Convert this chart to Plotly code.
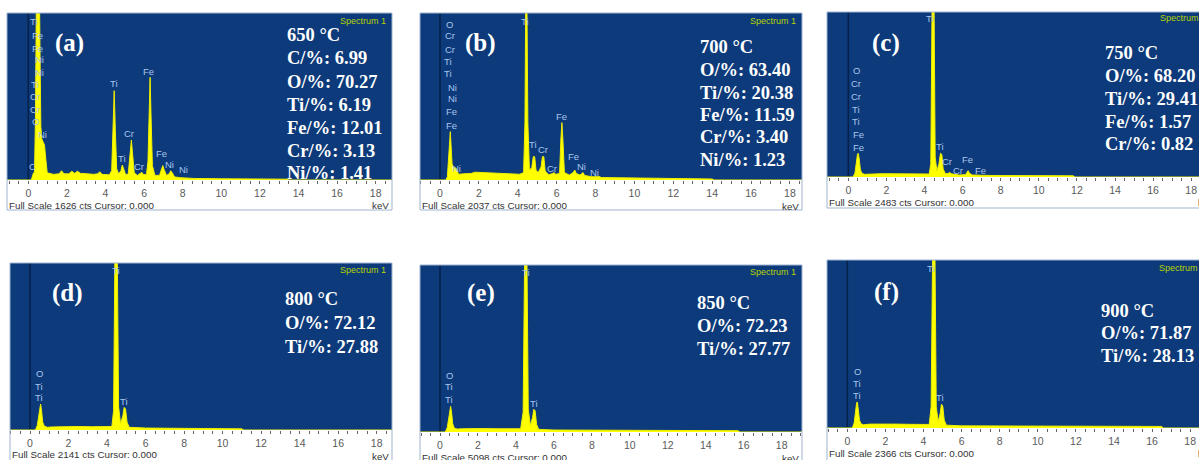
import plotly.graph_objects as go

W, H = 1199, 460

# ---------------- data ----------------
panel_letters = ["(a)", "(b)", "(c)", "(d)", "(e)", "(f)"]
temperatures = ["650 °C", "700 °C", "750 °C", "800 °C", "850 °C", "900 °C"]
full_scale_cts = [1626, 2037, 2483, 2141, 5098, 2366]
tick_values = [0, 2, 4, 6, 8, 10, 12, 14, 16, 18]

composition_a = ["C/%: 6.99", "O/%: 70.27", "Ti/%: 6.19", "Fe/%: 12.01", "Cr/%: 3.13", "Ni/%: 1.41"]
composition_b = ["O/%: 63.40", "Ti/%: 20.38", "Fe/%: 11.59", "Cr/%: 3.40", "Ni/%: 1.23"]
composition_c = ["O/%: 68.20", "Ti/%: 29.41", "Fe/%: 1.57", "Cr/%: 0.82"]
composition_d = ["O/%: 72.12", "Ti/%: 27.88"]
composition_e = ["O/%: 72.23", "Ti/%: 27.77"]
composition_f = ["O/%: 71.87", "Ti/%: 28.13"]

# spectra: (energy keV, counts)
spectrum_a = [(-1.2, 0), (0.15, 0), (0.22, 40), (0.27, 70), (0.32, 65), (0.37, 600), (0.42, 1800), (0.47, 2000),
              (0.57, 2000), (0.61, 1200), (0.65, 520), (0.70, 400), (0.78, 370), (0.84, 340), (0.91, 200), (0.98, 70),
              (1.3, 55), (1.6, 60), (1.72, 90), (1.85, 60), (2.1, 60), (2.25, 85), (2.4, 65), (2.55, 85), (2.7, 65),
              (3.0, 60), (3.4, 55), (3.6, 60), (3.7, 80), (3.82, 55), (4.2, 50),
              (4.32, 90), (4.39, 500), (4.45, 870), (4.51, 480), (4.58, 110), (4.68, 60), (4.80, 90), (4.87, 146),
              (4.94, 100), (5.05, 50), (5.18, 60), (5.27, 250), (5.34, 390), (5.40, 260), (5.49, 70), (5.65, 45),
              (5.80, 60), (5.88, 75), (5.96, 55), (6.12, 50), (6.20, 180), (6.26, 650), (6.31, 1000), (6.36, 620),
              (6.43, 140), (6.56, 45), (6.80, 45), (6.91, 110), (6.97, 140), (7.04, 100), (7.16, 45),
              (7.30, 60), (7.38, 90), (7.46, 70), (7.58, 30), (7.9, 22), (8.08, 20), (8.18, 26), (8.30, 18),
              (8.6, 15), (10, 12), (12, 10), (13.4, 8), (13.5, 0), (19.5, 0)]
spectrum_b = [(-1.2, 0), (0.30, 0), (0.38, 40), (0.44, 260), (0.49, 560), (0.53, 590), (0.57, 420), (0.62, 200),
              (0.70, 150), (0.80, 150), (0.88, 120), (0.95, 70), (1.2, 75), (1.6, 80), (1.8, 95), (2.2, 90),
              (2.6, 85), (3.0, 80), (3.6, 75), (4.1, 70), (4.30, 90), (4.37, 700), (4.41, 2200), (4.47, 2200),
              (4.52, 700), (4.60, 120), (4.72, 150), (4.80, 285), (4.87, 285), (4.94, 120), (5.05, 90),
              (5.20, 160), (5.27, 285), (5.34, 285), (5.41, 110), (5.60, 65), (5.80, 80), (5.87, 90), (5.95, 70),
              (6.15, 80), (6.22, 500), (6.27, 700), (6.32, 500), (6.40, 90), (6.65, 60), (6.85, 90), (6.93, 122),
              (7.01, 80), (7.20, 60), (7.30, 85), (7.36, 90), (7.44, 55), (7.8, 40), (8.08, 40), (8.16, 45),
              (8.3, 30), (10, 25), (12, 18), (14, 12), (14.1, 0), (19.5, 0)]
spectrum_c = [(-1.2, 0), (0.25, 0), (0.35, 60), (0.42, 220), (0.48, 340), (0.52, 357), (0.57, 280), (0.63, 120),
              (0.70, 60), (0.85, 40), (1.2, 45), (1.8, 50), (2.5, 48), (3.2, 45), (4.0, 42), (4.25, 45),
              (4.33, 200), (4.40, 2700), (4.50, 2700), (4.56, 300), (4.65, 90), (4.76, 200), (4.84, 357),
              (4.91, 340), (4.98, 120), (5.10, 50), (5.25, 55), (5.32, 70), (5.40, 50), (5.8, 30), (6.15, 35),
              (6.24, 90), (6.29, 95), (6.35, 60), (6.5, 30), (6.9, 28), (6.95, 32), (7.0, 25), (8, 22), (10, 20),
              (11.8, 18), (11.9, 0), (19.5, 0)]
spectrum_d = [(-1.2, 0), (0.28, 0), (0.38, 60), (0.45, 200), (0.51, 320), (0.55, 333), (0.60, 250), (0.66, 100),
              (0.74, 50), (0.9, 35), (1.2, 40), (1.8, 45), (2.5, 45), (3.2, 42), (3.8, 45), (4.25, 45),
              (4.34, 250), (4.41, 2300), (4.53, 2300), (4.60, 300), (4.70, 80), (4.82, 180), (4.89, 290),
              (4.96, 270), (5.04, 100), (5.15, 35), (6, 25), (8, 22), (9.5, 20), (11, 15), (11.1, 0), (19.5, 0)]
spectrum_e = [(-1.2, 0), (0.28, 0), (0.38, 130), (0.45, 450), (0.52, 760), (0.56, 786), (0.61, 600), (0.67, 250),
              (0.75, 120), (0.9, 90), (1.2, 100), (1.6, 110), (2.2, 105), (3.0, 100), (3.8, 95), (4.25, 100),
              (4.38, 600), (4.46, 5400), (4.58, 5400), (4.65, 700), (4.76, 200), (4.88, 450), (4.94, 694),
              (5.01, 650), (5.09, 230), (5.2, 80), (6, 60), (8, 55), (10, 50), (12, 45), (14, 45), (15.7, 40),
              (15.8, 0), (19.5, 0)]
spectrum_f = [(-1.2, 0), (0.26, 0), (0.36, 70), (0.43, 230), (0.49, 355), (0.53, 367), (0.58, 280), (0.64, 110),
              (0.72, 60), (0.85, 45), (1.2, 55), (1.8, 58), (2.5, 55), (3.2, 52), (3.9, 50), (4.30, 50),
              (4.40, 300), (4.48, 2500), (4.60, 2500), (4.67, 300), (4.77, 90), (4.88, 210), (4.94, 334),
              (5.01, 310), (5.09, 110), (5.2, 40), (6, 30), (8, 28), (10, 26), (12, 25), (14, 24), (16.5, 22),
              (16.6, 0), (19.5, 0)]

# peak labels: (element, energy keV, counts)
labels_a = [("Ti", 0.30, 1540), ("Fe", 0.50, 1410), ("Fe", 0.50, 1285), ("Ni", 0.60, 1170), ("Ni", 0.60, 1050),
            ("Ti", 0.35, 925), ("Cr", 0.35, 810), ("Cr", 0.35, 690), ("O", 0.35, 565), ("Ni", 0.76, 440),
            ("C", 0.24, 127), ("Ti", 4.44, 935), ("Fe", 6.24, 1055), ("Cr", 5.23, 455), ("Ti", 4.84, 205),
            ("Cr", 5.75, 130), ("Fe", 6.91, 260), ("Ni", 7.34, 153), ("Ni", 8.04, 104)]
labels_b = [("O", 0.48, 1900), ("Cr", 0.51, 1757), ("Cr", 0.51, 1594), ("Ti", 0.43, 1440), ("Ti", 0.43, 1293),
            ("Ni", 0.65, 1131), ("Ni", 0.65, 988), ("Fe", 0.60, 833), ("Fe", 0.60, 659), ("Ni", 0.86, 143),
            ("Ti", 4.37, 1931), ("Ti", 4.80, 439), ("Cr", 5.28, 366), ("Cr", 5.74, 143), ("Fe", 6.26, 772),
            ("Fe", 6.86, 284), ("Ni", 7.29, 162), ("Ni", 7.97, 89)]
labels_c = [("O", 0.43, 1610), ("Cr", 0.40, 1410), ("Cr", 0.40, 1208), ("Ti", 0.40, 1019), ("Ti", 0.40, 832),
            ("Fe", 0.52, 632), ("Fe", 0.52, 447), ("Ti", 4.30, 2388), ("Ti", 4.82, 456), ("Cr", 5.16, 230),
            ("Cr", 5.76, 105), ("Fe", 6.28, 266), ("Fe", 6.96, 105)]
labels_d = [("O", 0.48, 726), ("Ti", 0.48, 563), ("Ti", 0.48, 418), ("Ti", 4.47, 2039), ("Ti", 4.88, 362)]
labels_e = [("O", 0.49, 1734), ("Ti", 0.49, 1376), ("Ti", 0.49, 1000), ("Ti", 4.53, 4862), ("Ti", 4.95, 868)]
labels_f = [("O", 0.52, 790), ("Ti", 0.52, 626), ("Ti", 0.52, 452), ("Ti", 4.41, 2249), ("Ti", 4.88, 423)]

spectra = [spectrum_a, spectrum_b, spectrum_c, spectrum_d, spectrum_e, spectrum_f]
peak_labels = [labels_a, labels_b, labels_c, labels_d, labels_e, labels_f]
compositions = [composition_a, composition_b, composition_c, composition_d, composition_e, composition_f]

# ---------------- layout geometry (pixels) ----------------
geom = [
    dict(x0=7, x1=392, y0=13, y1=180, y2=210, zero=28.3, ppk=19.3),
    dict(x0=420, x1=802, y0=13, y1=180, y2=210, zero=440, ppk=19.44),
    dict(x0=827, x1=1212, y0=12, y1=177, y2=208, zero=848.3, ppk=19.05),
    dict(x0=10, x1=392, y0=263, y1=430, y2=475, zero=30, ppk=19.26),
    dict(x0=420, x1=802, y0=265, y1=432, y2=475, zero=440, ppk=18.98),
    dict(x0=827, x1=1212, y0=260, y1=428, y2=475, zero=847.3, ppk=19.05),
]
letter_pos = [(69, 43), (480, 43), (886, 43), (67, 293), (481, 293), (886, 292)]
comp_x = [285, 698, 1103, 283, 695, 1099]
comp_y = [[35, 58, 82, 105, 128, 151, 173], [47, 70, 93, 115, 137, 160], [53, 76, 99, 122, 144],
          [299, 323, 347], [303, 326, 349], [311, 333, 356]]
spec1_pos = [(388, 21, "right"), (798, 21, "right"), (1158, 18, "left"),
             (388, 270, "right"), (798, 272, "right"), (1157, 268, "left")]
fullscale_pos = [(7, 205), (420, 205), (827, 202), (10, 454), (420, 457), (827, 453)]
kev_pos = [(391, 205, "right"), (801, 206, "right"), (1196, 202, "left"),
           (391, 456, "right"), (801, 458, "right"), (1196, 453, "left")]

NAVY = "#0c3a7a"
YELLOW = "#ffff00"
LABEL_BLUE = "#a9c6ee"


def px(x):
    return x / W


def py(y):
    return 1 - y / H


fig = go.Figure()
annotations = []
shapes = []

for i in range(6):
    g = geom[i]
    n = "" if i == 0 else str(i + 1)
    xa, ya = "x" + n, "y" + n
    energies = [p[0] for p in spectra[i]]
    counts = [p[1] for p in spectra[i]]
    fig.add_trace(go.Scatter(x=energies, y=counts, mode="lines", fill="tozeroy",
                             fillcolor=YELLOW, line=dict(color="#eeee00", width=1),
                             xaxis=xa, yaxis=ya, hoverinfo="skip", showlegend=False))
    dx1 = min(g["x1"], W)
    xr0 = (g["x0"] - g["zero"]) / g["ppk"]
    xr1 = (dx1 - g["zero"]) / g["ppk"]
    fig.layout["xaxis" + n] = dict(
        domain=[px(g["x0"]), px(dx1)], range=[xr0, xr1], anchor=ya,
        tickmode="array", tickvals=tick_values, ticks="outside", ticklen=3, tickwidth=1,
        tickcolor="#666666", tickfont=dict(size=10.5, color="#5a5a5a", family="Liberation Sans"),
        showgrid=False, zeroline=False, showline=False, fixedrange=True,
        minor=dict(tick0=0, dtick=0.5, ticks="outside", ticklen=3, tickcolor="#666666", showgrid=False),
    )
    fig.layout["yaxis" + n] = dict(
        domain=[py(g["y1"]), py(g["y0"])], range=[0, full_scale_cts[i]], anchor=xa,
        showticklabels=False, showgrid=False, zeroline=False, showline=False, ticks="", fixedrange=True,
    )
    # zero line (dark vertical)
    shapes.append(dict(type="line", xref=xa, yref=ya + " domain", x0=0, x1=0, y0=0, y1=1,
                       line=dict(color="#05214a", width=1.5), layer="below"))
    # panel border
    shapes.append(dict(type="rect", xref="paper", yref="paper", x0=px(g["x0"]), x1=px(g["x1"]),
                       y0=py(g["y2"]), y1=py(g["y0"]), line=dict(color="#9fb4d0", width=1),
                       fillcolor="rgba(0,0,0,0)", layer="above"))
    # peak labels
    for (el, e, c) in peak_labels[i]:
        annotations.append(dict(xref=xa, yref=ya, x=e, y=c, text=el, showarrow=False,
                                font=dict(size=9.5, color=LABEL_BLUE, family="Liberation Sans"),
                                xanchor="center", yanchor="middle"))
    # panel letter
    lx, ly = letter_pos[i]
    annotations.append(dict(xref="paper", yref="paper", x=px(lx), y=py(ly), text="<b>" + panel_letters[i] + "</b>",
                            showarrow=False, font=dict(size=25, color="white", family="Liberation Serif"),
                            xanchor="center", yanchor="middle"))
    # temperature + composition
    lines = [temperatures[i]] + compositions[i]
    for t, yy in zip(lines, comp_y[i]):
        annotations.append(dict(xref="paper", yref="paper", x=px(comp_x[i]), y=py(yy), text="<b>" + t + "</b>",
                                showarrow=False, font=dict(size=18.5, color="white", family="Liberation Serif"),
                                xanchor="left", yanchor="middle"))
    # Spectrum 1
    sx, sy, sa = spec1_pos[i]
    annotations.append(dict(xref="paper", yref="paper", x=px(sx), y=py(sy), text="Spectrum 1", showarrow=False,
                            font=dict(size=9, color="#b8d400", family="Liberation Sans"),
                            xanchor=sa, yanchor="middle"))
    # Full scale text
    fx, fy = fullscale_pos[i]
    annotations.append(dict(xref="paper", yref="paper", x=px(fx), y=py(fy),
                            text="Full Scale %d cts Cursor: 0.000" % full_scale_cts[i], showarrow=False,
                            font=dict(size=9.8, color="#333333", family="Liberation Sans"),
                            xanchor="left", yanchor="middle"))
    kx, ky, ka = kev_pos[i]
    annotations.append(dict(xref="paper", yref="paper", x=px(kx), y=py(ky), text="keV", showarrow=False,
                            font=dict(size=9.8, color="#333333", family="Liberation Sans"),
                            xanchor=ka, yanchor="middle"))

fig.update_layout(
    width=W, height=H, margin=dict(l=0, r=0, t=0, b=0),
    paper_bgcolor="white", plot_bgcolor=NAVY,
    annotations=annotations, shapes=shapes, showlegend=False,
)

fig.write_html("out.html", config={"displayModeBar": False},
               post_script="document.body.style.margin='0';document.body.style.padding='0';"
                           "document.body.style.overflow='hidden';")
